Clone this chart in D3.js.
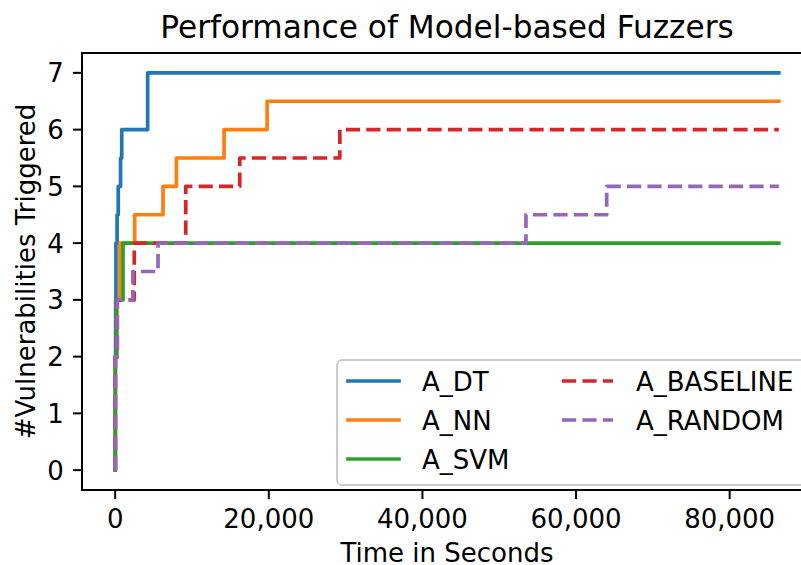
<!DOCTYPE html>
<html>
<head>
<meta charset="utf-8">
<script src="https://cdn.jsdelivr.net/npm/d3@7"></script>
<style>
  body { margin: 0; background: #fff; }
  text { font-family: "DejaVu Sans", sans-serif; fill: #000; }
</style>
</head>
<body>
<div id="chart"></div>
<script>
(function(){

  var width = 801, height = 565;

  // step data: [seconds, vulnerabilities]
  var seriesNames = ["A_DT", "A_NN", "A_SVM", "A_BASELINE", "A_RANDOM"];
  var seriesColors = ["#1f77b4", "#ff7f0e", "#2ca02c", "#d62728", "#9467bd"];
  var seriesDashed = [false, false, false, true, true];

  var dtSteps       = [[0,0],[10,2],[60,3],[100,4],[250,4.5],[400,5],[700,5.5],[850,6],[4230,7],[86400,7]];
  var nnSteps       = [[0,0],[20,2],[195,3],[586,4],[2540,4.5],[6230,5],[7970,5.5],[14180,6],[19780,6.5],[86400,6.5]];
  var svmSteps      = [[0,0],[20,2],[195,3],[1015,4],[86400,4]];
  var baselineSteps = [[0,0],[20,2],[270,3],[2480,4],[9190,5],[16220,5.5],[29250,6],[86400,6]];
  var randomSteps   = [[0,0],[20,2],[270,3],[2300,3.5],[5580,4],[53480,4.5],[63990,5],[86400,5]];

  var xTicks = [0, 20000, 40000, 60000, 80000];
  var yTicks = [0, 1, 2, 3, 4, 5, 6, 7];

  var allSteps = [dtSteps, nnSteps, svmSteps, baselineSteps, randomSteps];

  var left = 82, right = 812, top = 53, bottom = 490;
  var fs = 26, tick = 9.1;

  var x = d3.scaleLinear().domain([-4320, 90720]).range([left, right]);
  var y = d3.scaleLinear().domain([-0.35, 7.35]).range([bottom, top]);

  var svg = d3.select("#chart").append("svg")
      .attr("width", width)
      .attr("height", height);

  var line = d3.line()
      .curve(d3.curveStepAfter)
      .x(function(d){ return x(d[0]); })
      .y(function(d){ return y(d[1]); });

  allSteps.forEach(function(s, i){
    svg.append("path")
        .datum(s)
        .attr("d", line)
        .attr("fill", "none")
        .attr("stroke", seriesColors[i])
        .attr("stroke-width", 3.7)
        .attr("stroke-linecap", seriesDashed[i] ? "butt" : "square")
        .attr("stroke-linejoin", "round")
        .attr("stroke-dasharray", seriesDashed[i] ? "14.2,6.2" : null);
  });

  // spines
  svg.append("rect")
      .attr("x", left).attr("y", top)
      .attr("width", right - left).attr("height", bottom - top)
      .attr("fill", "none")
      .attr("stroke", "#000")
      .attr("stroke-width", 2);

  // x ticks
  var fmt = d3.format(",");
  var xt = svg.selectAll(".xtick").data(xTicks).enter().append("g")
      .attr("transform", function(d){ return "translate(" + x(d) + ",0)"; });
  xt.append("line")
      .attr("y1", bottom).attr("y2", bottom + tick)
      .attr("stroke", "#000").attr("stroke-width", 2);
  xt.append("text")
      .attr("y", bottom + 38)
      .attr("text-anchor", "middle")
      .style("font-size", fs + "px")
      .text(function(d){ return fmt(d); });

  // y ticks
  var yt = svg.selectAll(".ytick").data(yTicks).enter().append("g")
      .attr("transform", function(d){ return "translate(0," + y(d) + ")"; });
  yt.append("line")
      .attr("x1", left - tick).attr("x2", left)
      .attr("stroke", "#000").attr("stroke-width", 2);
  yt.append("text")
      .attr("x", left - 2 * tick)
      .attr("y", 9.5)
      .attr("text-anchor", "end")
      .style("font-size", fs + "px")
      .text(function(d){ return d; });

  // labels
  svg.append("text")
      .attr("x", (left + right) / 2).attr("y", 38)
      .attr("text-anchor", "middle")
      .style("font-size", "31.2px")
      .text("Performance of Model-based Fuzzers");

  svg.append("text")
      .attr("x", (left + right) / 2).attr("y", 562)
      .attr("text-anchor", "middle")
      .style("font-size", fs + "px")
      .text("Time in Seconds");

  svg.append("text")
      .attr("transform", "translate(35," + ((top + bottom) / 2) + ") rotate(-90)")
      .attr("text-anchor", "middle")
      .style("font-size", fs + "px")
      .text("#Vulnerabilities Triggered");

  // legend
  var lg = svg.append("g");
  lg.append("rect")
      .attr("x", 337).attr("y", 360)
      .attr("width", 470).attr("height", 125)
      .attr("rx", 5)
      .attr("fill", "#fff").attr("fill-opacity", 0.8)
      .attr("stroke", "#cccccc").attr("stroke-width", 2);

  var colX = [348, 562], rowY = [381, 420, 459];
  seriesNames.forEach(function(name, i){
    var c = i < 3 ? 0 : 1, r = i < 3 ? i : i - 3;
    var hx = colX[c], hy = rowY[r];
    lg.append("line")
        .attr("x1", hx).attr("x2", hx + 51)
        .attr("y1", hy).attr("y2", hy)
        .attr("stroke", seriesColors[i])
        .attr("stroke-width", 3.7)
        .attr("stroke-linecap", seriesDashed[i] ? "butt" : "square")
        .attr("stroke-dasharray", seriesDashed[i] ? "14.2,6.2" : null);
    lg.append("text")
        .attr("x", hx + 74).attr("y", hy + 9.5)
        .style("font-size", fs + "px")
        .text(name);
  });

})();
</script>
</body>
</html>
